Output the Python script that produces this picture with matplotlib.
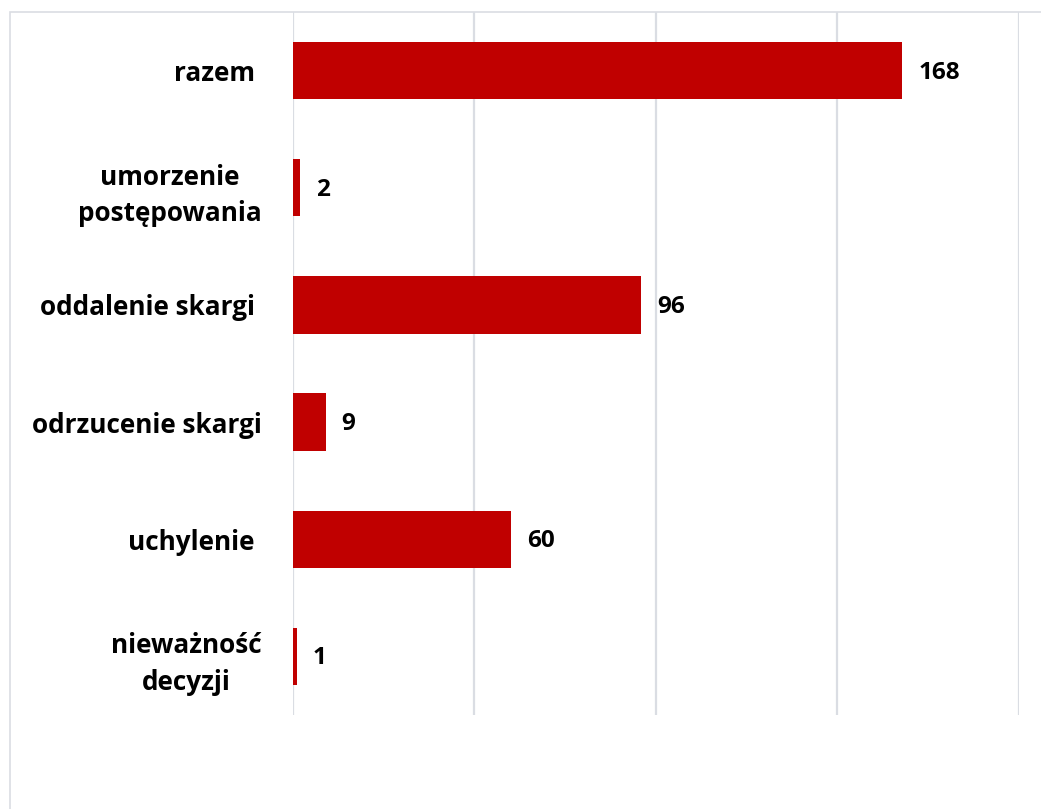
import matplotlib.pyplot as plt
from matplotlib.patches import Rectangle

categories = ["nieważność\ndecyzji", "uchylenie ", "odrzucenie skargi",
              "oddalenie skargi ", "umorzenie\npostępowania", "razem "]
values = [1, 60, 9, 96, 2, 168]
x_ticks = [0, 50, 100, 150, 200]

W, H = 1041, 809
fig = plt.figure(figsize=(W / 100, H / 100), dpi=100)
ax = fig.add_axes([293 / W, 1 - 715 / H, (1018.5 - 293) / W, (715 - 12) / H])

ax.barh(range(len(values)), values, height=0.49, color="#C00000", zorder=3)
ax.set_xlim(0, 200)
ax.set_ylim(-0.5, len(values) - 0.5)
ax.set_xticks(x_ticks)
ax.set_xticklabels([])
ax.set_yticks(range(len(values)))
ax.set_yticklabels(categories, fontsize=18.8, fontweight="bold",
                   family=["Open Sans", "DejaVu Sans"], multialignment="center",
                   linespacing=1.45)
ax.tick_params(axis="both", length=0)
ax.tick_params(axis="y", pad=22.5)
ax.grid(axis="x", color="#DADDE3", linewidth=1.6, zorder=0)
for s in ax.spines.values():
    s.set_visible(False)

for i, v in enumerate(values):
    ax.annotate(str(v), (v, i), xytext=(16 * 0.72, -1.5), textcoords="offset points",
                ha="left", va="center", fontsize=17.5, fontweight="bold",
                family=["Open Sans", "DejaVu Sans"])

fig.patches.append(Rectangle((9.5 / W, -0.1), 1.2, 1 - 12 / H + 0.1,
                             transform=fig.transFigure, fill=False,
                             edgecolor="#DADDE3", linewidth=1.2))

fig.savefig("out.png", dpi=100)
